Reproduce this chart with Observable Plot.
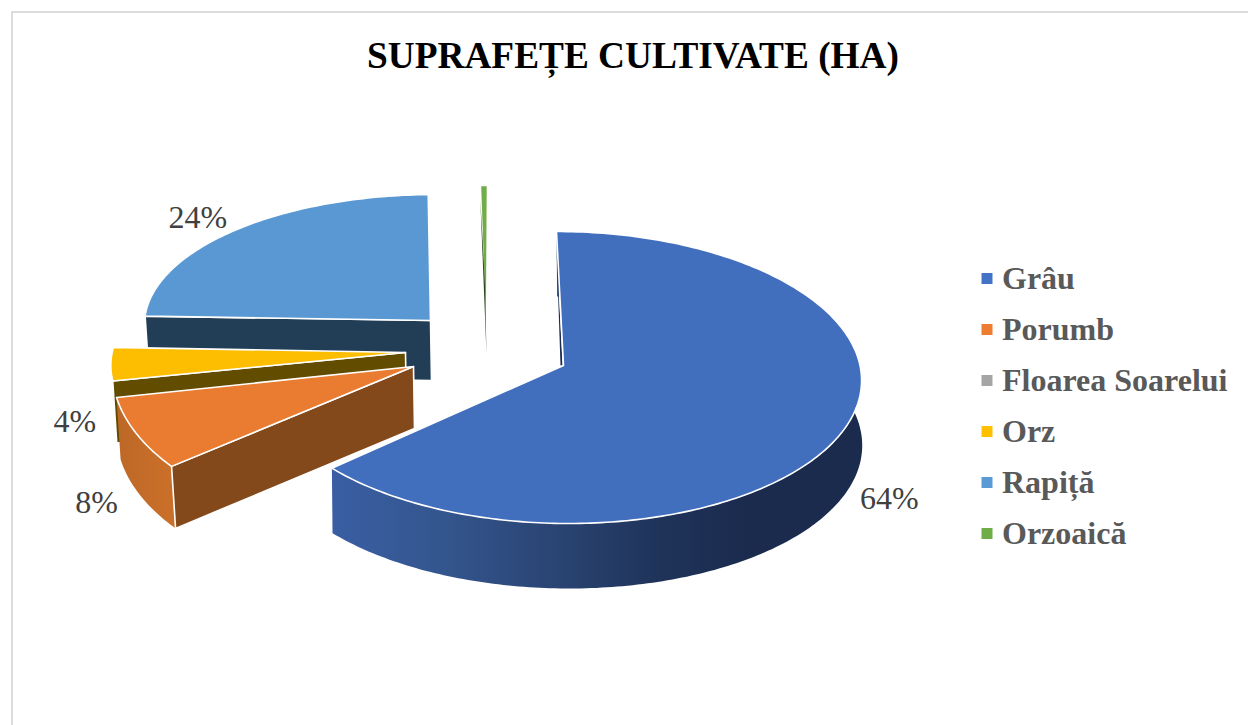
<!DOCTYPE html>
<html lang="ro">
<head>
<meta charset="utf-8">
<script src="https://cdn.jsdelivr.net/npm/d3@7"></script>
<script src="https://cdn.jsdelivr.net/npm/@observablehq/plot@0.6"></script>
<style>
html,body{margin:0;padding:0;background:#fff;width:1248px;height:725px;overflow:hidden}
#frame{position:absolute;left:11px;top:11px;right:-4px;bottom:-4px;border:2px solid #dcdcdc;box-sizing:border-box}
h1{position:absolute;left:11px;top:32px;width:1244px;margin:0;text-align:center;font:bold 37.3px "Liberation Serif",serif;color:#000;line-height:48px}
#chart{position:absolute;left:0;top:0}
</style>
</head>
<body>
<div id="chart"></div>
<div id="frame"></div>
<h1>SUPRAFEȚE CULTIVATE (HA)</h1>
<script>
const crops  = ["Grâu","Porumb","Floarea Soarelui","Orz","Rapiță","Orzoaică"];
const shares = [64.4,7.8,0,3.9,23.6,0.4];
const colors = ["#4472c4","#ed7d31","#a5a5a5","#ffc000","#5b9bd5","#70ad47"];
const labelled = ["Grâu","Porumb","Orz","Rapiță"];

// 3D look of every exploded slice: ellipse centre, radii, shear, apex, wall depth
const centerX = [562,386.6,0,408,435,487];
const centerY = [377,369,0,355.7,324,320];
const radiusX = [299,275,0,297,291,285];
const radiusY = [146,156,0,138,130,135];
const shear   = [6,0,0,-20,0,0];
const apexX   = [563,413,0,405,430,486];
const apexY   = [365,366,0,352,320,354];
const depth   = [65,62,0,62,60,0];
const wallLean = [0.01,0.065,0,0.05,0,0];
const faceFill = ["#416fbd","#e97c30","#a5a5a5","#fdbd00","#5a98d3","#70ad47"];
const wallFill = ["url(#wallBlue)","url(#wallOrange)","#000","#624c00","#223d56","#2f5a1f"];
const cutFill  = ["#1b2c52","#84491a","#000","#624c00","#223d56","#2b4a1d"];
const labelDx = [55,-40,0,-36,-36,0];
const labelDy = [58,69,0,57.5,-13.5,0];
const startAngle = 0;

const total = d3.sum(shares);
let acc = startAngle;
const slices = crops.map((name,i)=>{
  const a0 = acc, a1 = acc + shares[i]/total*360; acc = a1;
  const pt = (a,dy=0)=>{
    const r=a*Math.PI/180;
    return {x:centerX[i]+radiusX[i]*Math.sin(r)-shear[i]*Math.cos(r)+dy*wallLean[i],
            y:centerY[i]-radiusY[i]*Math.cos(r)+dy};
  };
  const n = Math.max(2,Math.ceil(a1-a0));
  const arc = (dy=0)=>d3.range(n+1).map(k=>pt(a0+(a1-a0)*k/n,dy));
  return {name,i,a0,a1,pt,arc,apex:{x:apexX[i],y:apexY[i]},d:depth[i]};
});
const ring = p=>[...p,p[0]];
const poly = (pts,fill,stroke="#fff",sw=1.6)=>Plot.line(ring(pts),{x:"x",y:"y",fill,stroke,strokeWidth:sw,strokeLinejoin:"round"});
const sliceOf = name=>slices[crops.indexOf(name)];
const face = sl=>poly([sl.apex,...sl.arc()],faceFill[sl.i]);
const wall = sl=>poly([...sl.arc(),...sl.arc(sl.d).reverse()],wallFill[sl.i],"none",0);
const cut = (sl,a)=>{const c=sl.pt(a);return poly([c,sl.apex,{x:sl.apex.x+1,y:sl.apex.y+sl.d},{x:c.x+4,y:c.y+sl.d}],cutFill[sl.i]);};

const [grau,porumb,,orz,rapita,orzoaica] = slices;

// Back to front
const marks = [
  ()=>{const svg=d3.create("svg:defs");
    const g=svg.append("linearGradient").attr("id","wallBlue");
    [[0,"#3a5ea3"],[0.2,"#34568f"],[0.42,"#2a4473"],[0.62,"#1f3359"],[0.78,"#1a2b4e"],[1,"#1a2b4e"]].forEach(([o,c])=>g.append("stop").attr("offset",o).attr("stop-color",c));
    const h=svg.append("linearGradient").attr("id","wallOrange");
    [[0,"#bd6828"],[1,"#cb7029"]].forEach(([o,c])=>h.append("stop").attr("offset",o).attr("stop-color",c));
    return svg.node();},
  cut(rapita,rapita.a0),
  face(rapita),
  face(orzoaica),
  poly([orzoaica.pt(orzoaica.a0,15),orzoaica.apex,{x:orzoaica.apex.x-1.5,y:orzoaica.apex.y-70},{x:orzoaica.pt(orzoaica.a0).x+1.5,y:orzoaica.pt(orzoaica.a0).y+40}],cutFill[5],"none",0),
  cut(orz,orz.a0),
  face(orz),
  wall(porumb),
  cut(porumb,porumb.a0),
  face(porumb),
  poly([{x:grau.pt(grau.a0).x,y:grau.pt(grau.a0).y+16},{x:grau.apex.x-3,y:grau.apex.y},{x:grau.apex.x-1,y:grau.apex.y}],cutFill[0],"none",0),
  wall(grau),
  face(grau),
  // percentage labels
  Plot.text(labelled,{
    x:d=>{const sl=sliceOf(d);return sl.pt((sl.a0+sl.a1)/2).x+labelDx[sl.i];},
    y:d=>{const sl=sliceOf(d);return sl.pt((sl.a0+sl.a1)/2).y+labelDy[sl.i];},
    text:d=>Math.round(shares[crops.indexOf(d)])+"%",
    fontSize:32,fontFamily:"Liberation Serif",fill:"#404040",textAnchor:"middle",lineAnchor:"middle"
  }),
  // legend
  Plot.dot(crops,{x:()=>986.5,y:(d,i)=>278+i*51,symbol:"square",r:6.2,fill:d=>colors[crops.indexOf(d)],stroke:"none"}),
  Plot.text(crops,{x:()=>1001.5,y:(d,i)=>278+i*51,text:d=>d,fontSize:32,fontWeight:"bold",fontFamily:"Liberation Serif",fill:"#595959",textAnchor:"start",lineAnchor:"middle"})
];

const chart = Plot.plot({
  width:1248,height:725,margin:0,
  x:{domain:[0,1248],range:[0,1248],axis:null},
  y:{domain:[0,725],range:[0,725],axis:null},
  style:{background:"transparent",overflow:"visible"},
  marks
});
document.getElementById("chart").append(chart);
</script>
</body>
</html>
